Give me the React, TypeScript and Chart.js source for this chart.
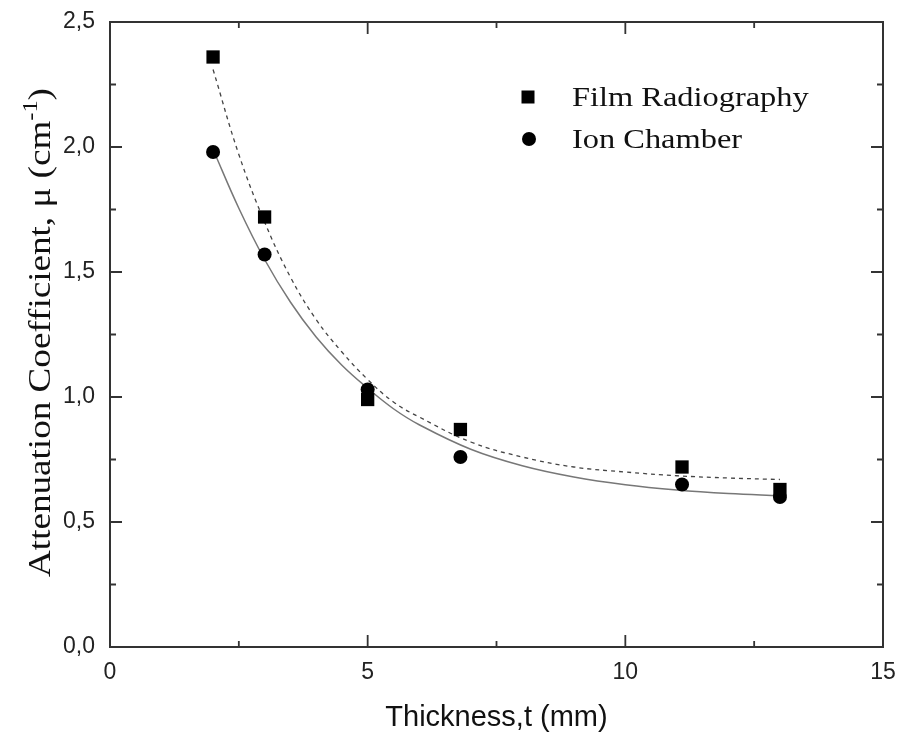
import React, { useEffect, useRef } from "react";
import { Chart, registerables } from "chart.js";

Chart.register(...registerables);

// Measured points
const thickness = [2, 3, 5, 6.8, 11.1, 13];
const filmRadiography = [2.36, 1.72, 0.99, 0.87, 0.72, 0.63];
const ionChamber = [1.98, 1.57, 1.03, 0.76, 0.65, 0.6];

// Fitted curves
const fitThickness = [2, 2.5, 3, 3.5, 4, 4.5, 5, 5.5, 6, 7, 8, 9, 10, 11, 12, 13];
const filmFit = [2.31, 1.97, 1.7, 1.48, 1.31, 1.18, 1.07, 0.98, 0.92, 0.82, 0.76, 0.72, 0.7, 0.685, 0.676, 0.67];
const ionFit = [1.99, 1.755, 1.55, 1.38, 1.24, 1.127, 1.035, 0.953, 0.889, 0.791, 0.725, 0.68, 0.649, 0.628, 0.614, 0.605];

const seriesLabels = ["Film Radiography", "Ion Chamber"];
const xTitle = "Thickness,t (mm)";
const yTitleMain = "Attenuation Coefficient, \u03bc (cm";
const yTitleSup = "-1";
const yTitleEnd = ")";

const AXIS_COLOR = "#333";

const boxTicksPlugin = {
  id: "boxTicks",
  afterDatasetsDraw(chart: any) {
    const { ctx, chartArea } = chart;
    const { left, right, top, bottom } = chartArea;
    const xs = chart.scales.x;
    const ys = chart.scales.y;
    ctx.save();
    ctx.strokeStyle = AXIS_COLOR;
    ctx.lineWidth = 2;
    ctx.strokeRect(left, top, right - left, bottom - top);
    const major = 12;
    const minor = 6;
    const xt = xs.ticks.map((t: any) => t.value);
    const yt = ys.ticks.map((t: any) => t.value);
    ctx.lineWidth = 1.8;
    ctx.beginPath();
    const xVals: [number, number][] = [];
    xt.forEach((v: number, i: number) => {
      xVals.push([v, major]);
      if (i < xt.length - 1) xVals.push([(v + xt[i + 1]) / 2, minor]);
    });
    xVals.forEach(([v, len]) => {
      const px = xs.getPixelForValue(v);
      ctx.moveTo(px, bottom);
      ctx.lineTo(px, bottom - len);
      ctx.moveTo(px, top);
      ctx.lineTo(px, top + len);
    });
    const yVals: [number, number][] = [];
    yt.forEach((v: number, i: number) => {
      yVals.push([v, major]);
      if (i < yt.length - 1) yVals.push([(v + yt[i + 1]) / 2, minor]);
    });
    yVals.forEach(([v, len]) => {
      const py = ys.getPixelForValue(v);
      ctx.moveTo(left, py);
      ctx.lineTo(left + len, py);
      ctx.moveTo(right, py);
      ctx.lineTo(right - len, py);
    });
    ctx.stroke();

    // Legend
    const lx = 528;
    const tx = 572;
    const rows = [97, 139];
    ctx.fillStyle = "#000";
    ctx.fillRect(lx - 6.5, rows[0] - 6.5, 13, 13);
    ctx.beginPath();
    ctx.arc(lx + 1, rows[1], 7, 0, Math.PI * 2);
    ctx.fill();
    ctx.font = "27px 'Liberation Serif'";
    ctx.textBaseline = "alphabetic";
    ctx.textAlign = "left";
    ctx.fillStyle = "#111";
    const stretch = 1.2;
    ctx.save();
    ctx.translate(tx, 0);
    ctx.scale(stretch, 1);
    ctx.fillText(chart.data.datasets[0].label, 0, 106);
    ctx.fillText(chart.data.datasets[1].label, 0, 148);
    ctx.restore();

    // Y title with superscript
    const cy = (top + bottom) / 2 - 2;
    ctx.translate(50, cy);
    ctx.rotate(-Math.PI / 2);
    ctx.scale(1.16, 1);
    const mainFont = "32px 'Liberation Serif'";
    const supFont = "21px 'Liberation Serif'";
    ctx.font = mainFont;
    const w1 = ctx.measureText(yTitleMain).width;
    const w3 = ctx.measureText(yTitleEnd).width;
    ctx.font = supFont;
    const w2 = ctx.measureText(yTitleSup).width;
    const total = w1 + w2 + w3;
    let x0 = -total / 2;
    ctx.fillStyle = "#111";
    ctx.font = mainFont;
    ctx.fillText(yTitleMain, x0, 0);
    x0 += w1;
    ctx.font = supFont;
    ctx.fillText(yTitleSup, x0, -13);
    x0 += w2;
    ctx.font = mainFont;
    ctx.fillText(yTitleEnd, x0, 0);
    ctx.restore();
  },
};

export default function App() {
  const canvasRef = useRef<HTMLCanvasElement>(null);

  useEffect(() => {
    document.body.style.margin = "0";
    const canvas = canvasRef.current;
    if (!canvas) return;
    const chart = new Chart(canvas, {
      type: "scatter",
      data: {
        datasets: [
          {
            label: seriesLabels[0],
            data: thickness.map((x, i) => ({ x, y: filmRadiography[i] })),
            pointStyle: "rect",
            pointRadius: 9.4,
            pointHoverRadius: 9.4,
            backgroundColor: "#000",
            borderColor: "#000",
            borderWidth: 0,
            showLine: false,
            order: 0,
          },
          {
            label: seriesLabels[1],
            data: thickness.map((x, i) => ({ x, y: ionChamber[i] })),
            pointStyle: "circle",
            pointRadius: 7,
            pointHoverRadius: 7,
            backgroundColor: "#000",
            borderColor: "#000",
            borderWidth: 0,
            showLine: false,
            order: 0,
          },
          {
            label: "Film fit",
            data: fitThickness.map((x, i) => ({ x, y: filmFit[i] })),
            showLine: true,
            pointRadius: 0,
            borderColor: "#444",
            borderWidth: 1.3,
            borderDash: [4, 4],
            tension: 0.4,
            fill: false,
            order: 1,
          },
          {
            label: "Ion fit",
            data: fitThickness.map((x, i) => ({ x, y: ionFit[i] })),
            showLine: true,
            pointRadius: 0,
            borderColor: "#777",
            borderWidth: 1.5,
            tension: 0.4,
            fill: false,
            order: 1,
          },
        ],
      },
      options: {
        animation: false,
        responsive: false,
        maintainAspectRatio: false,
        layout: { padding: { top: 22, right: 14, left: 0, bottom: 0 } },
        plugins: {
          legend: { display: false },
          tooltip: { enabled: false },
        },
        scales: {
          x: {
            type: "linear",
            min: 0,
            max: 15,
            ticks: {
              stepSize: 5,
              padding: 12,
              color: "#222",
              font: { family: "'Liberation Sans'", size: 23 },
              callback: (v: any) => String(v),
            },
            grid: { display: false, drawTicks: false },
            border: { display: false },
            title: {
              display: true,
              text: xTitle,
              color: "#111",
              font: { family: "'Liberation Sans'", size: 29 },
              padding: { top: 0, bottom: 0 },
            },
            afterFit: (s: any) => {
              s.height = 88;
              s.paddingLeft = 0;
              s.paddingRight = 0;
            },
          },
          y: {
            type: "linear",
            min: 0,
            max: 2.5,
            ticks: {
              stepSize: 0.5,
              padding: 15,
              color: "#222",
              font: { family: "'Liberation Sans'", size: 23 },
              callback: (v: any) => Number(v).toFixed(1).replace(".", ","),
            },
            grid: { display: false, drawTicks: false },
            border: { display: false },
            afterFit: (s: any) => {
              s.width = 110;
              s.paddingTop = 0;
              s.paddingBottom = 0;
            },
          },
        },
      },
      plugins: [boxTicksPlugin],
    });
    return () => chart.destroy();
  }, []);

  return (
    <div style={{ width: 897, height: 735, background: "#fff" }}>
      <canvas ref={canvasRef} width={897} height={735} style={{ display: "block" }} />
    </div>
  );
}
